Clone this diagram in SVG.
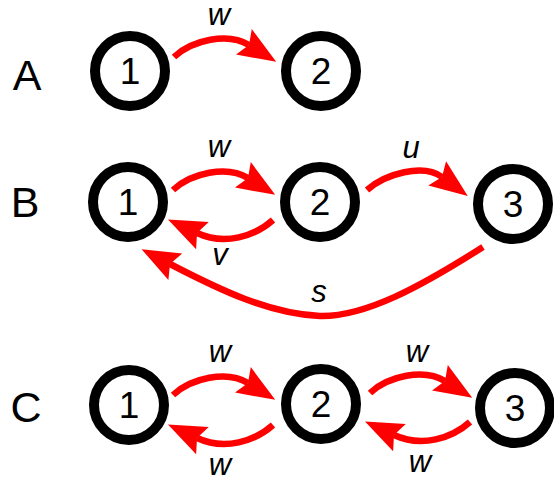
<svg xmlns="http://www.w3.org/2000/svg" width="554" height="478" viewBox="0 0 554 478">
  <style>
    .node circle { fill: #ffffff; stroke: #000000; stroke-width: 10; }
    .node text { font-family: "Liberation Sans", Arial, sans-serif; font-size: 37px; text-anchor: middle; fill: #000000; }
    .row { font-family: "Liberation Sans", Arial, sans-serif; font-size: 43px; text-anchor: middle; fill: #000000; }
    .edge { fill: none; stroke: #ff0000; stroke-width: 6.5; marker-end: url(#head); }
    .lbl { font-family: "Liberation Sans", Arial, sans-serif; font-size: 31px; font-style: italic; text-anchor: middle; fill: #000000; }
  </style>
  <defs>
    <marker id="head" markerUnits="userSpaceOnUse" markerWidth="40" markerHeight="30" refX="6" refY="15" orient="auto" overflow="visible">
      <path d="M0,0 L38,15 L0,30 L6,15 z" fill="#ff0000"/>
    </marker>
  </defs>

  <!-- row labels -->
  <text class="row" x="27" y="90">A</text>
  <text class="row" x="25" y="217">B</text>
  <text class="row" x="26" y="422">C</text>

  <!-- connectors -->
  <g id="edges">
    <path class="edge" d="M174,57 C192,40 228,32 249,45"/>
    <path class="edge" d="M173,190 C191,173 227,165 248,178"/>
    <path class="edge" d="M367,190 C385,174 423,163 442,177"/>
    <path class="edge" d="M273,220 C255,236 225,246 197,233"/>
    <path class="edge" d="M483,247 C420,287 365,317 320,316 C270,314 220,290 170,264"/>
    <path class="edge" d="M173,395 C191,378 227,370 248,383"/>
    <path class="edge" d="M370,393 C388,376 424,368 445,381"/>
    <path class="edge" d="M273,425 C255,441 225,451 197,438"/>
    <path class="edge" d="M470,422 C452,438 422,448 394,435"/>
  </g>

  <!-- connector labels -->
  <g id="edge-labels">
    <text class="lbl" x="219" y="25">w</text>
    <text class="lbl" x="219" y="157">w</text>
    <text class="lbl" x="411" y="158">u</text>
    <text class="lbl" x="220" y="265">v</text>
    <text class="lbl" x="319" y="302">s</text>
    <text class="lbl" x="220" y="362">w</text>
    <text class="lbl" x="417" y="362">w</text>
    <text class="lbl" x="220" y="475">w</text>
    <text class="lbl" x="420" y="472">w</text>
  </g>

  <!-- nodes -->
  <g id="a1" class="node"><circle cx="130" cy="71" r="35"/><text x="130" y="84">1</text></g>
  <g id="a2" class="node"><circle cx="321" cy="71" r="35"/><text x="321" y="84">2</text></g>

  <g id="b1" class="node"><circle cx="128" cy="202" r="35"/><text x="128" y="215">1</text></g>
  <g id="b2" class="node"><circle cx="320" cy="202" r="35"/><text x="320" y="215">2</text></g>
  <g id="b3" class="node"><circle cx="513" cy="204" r="35"/><text x="513" y="217">3</text></g>

  <g id="c1" class="node"><circle cx="129" cy="405" r="35"/><text x="129" y="418">1</text></g>
  <g id="c2" class="node"><circle cx="321" cy="404" r="35"/><text x="321" y="417">2</text></g>
  <g id="c3" class="node"><circle cx="515" cy="408" r="35"/><text x="515" y="421">3</text></g>
</svg>
